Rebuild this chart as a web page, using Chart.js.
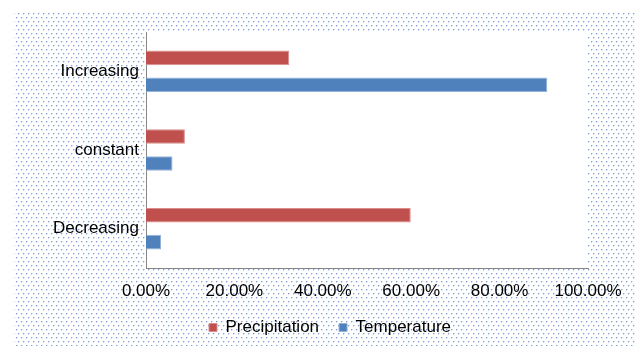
<!DOCTYPE html>
<html>
<head>
<meta charset="utf-8">
<script src="https://cdn.jsdelivr.net/npm/chart.js@4"></script>
<style>
  html, body { margin: 0; padding: 0; background: #fff; }
  #wrap { width: 635px; height: 346px; position: relative; }
</style>
</head>
<body>
<div id="wrap"><canvas id="chart"></canvas></div>
<script>
// values (percent)
var categories = ["Increasing", "constant", "Decreasing"];
var precipitation = [32.4, 8.8, 59.9];
var temperature = [90.8, 6.0, 3.4];
var seriesNames = ["Precipitation", "Temperature"];
var xTicks = [0, 20, 40, 60, 80, 100];

function makeDots(ctx) {
    var c = document.createElement("canvas");
    c.width = 5; c.height = 8;
    var g = c.getContext("2d");
    g.fillStyle = "#fff";
    g.fillRect(0, 0, 5, 8);
    g.fillStyle = "#809fd4";
    g.fillRect(1, 1, 1, 1);
    g.fillRect(3, 5, 1, 1);
    g.fillStyle = "#cfdbf0";
    g.fillRect(2, 1, 1, 1);
    g.fillRect(1, 2, 1, 1);
    g.fillRect(4, 5, 1, 1);
    g.fillRect(3, 6, 1, 1);
    return ctx.createPattern(c, "repeat");
}

// dotted frame behind everything, white plot area on top of it
var background = {
    id: "background",
    afterLayout: function(chart) {
        // legend sits a bit right of the plot centre in the original
        chart.legend.left += 29;
        chart.legend.right += 29;
    },
    beforeDraw: function(chart) {
        var ctx = chart.ctx, a = chart.chartArea;
        ctx.save();
        ctx.fillStyle = makeDots(ctx);
        ctx.fillRect(14, 13, chart.width - 14, chart.height - 13);
        ctx.fillStyle = "#fff";
        ctx.fillRect(a.left, a.top, a.right - a.left, a.bottom - a.top);
        ctx.restore();
    }
};

Chart.defaults.font.family = "'Liberation Sans', Arial, sans-serif";
Chart.defaults.font.size = 17;
Chart.defaults.color = "#000";

new Chart("chart", {
    type: "bar",
    data: {
        labels: categories,
        datasets: [
            {
                label: seriesNames[0],
                data: precipitation,
                backgroundColor: "#C0504D",
                borderColor: "#D98E8C",
                borderWidth: 1,
                categoryPercentage: 0.684,
                barPercentage: 0.54
            },
            {
                label: seriesNames[1],
                data: temperature,
                backgroundColor: "#4F81BD",
                borderColor: "#95B3D7",
                borderWidth: 1,
                categoryPercentage: 0.684,
                barPercentage: 0.54
            }
        ]
    },
    options: {
        indexAxis: "y",
        responsive: true,
        maintainAspectRatio: false,
        animation: false,
        layout: { padding: { left: 14, top: 32, right: 47, bottom: 0 } },
        plugins: {
            legend: {
                position: "bottom",
                labels: { boxWidth: 8, boxHeight: 8, padding: 20 }
            },
            tooltip: { enabled: false }
        },
        scales: {
            x: {
                min: 0,
                max: 100,
                afterBuildTicks: function(scale) {
                    scale.ticks = xTicks.map(function(v) { return { value: v }; });
                },
                ticks: {
                    padding: 13,
                    maxRotation: 0,
                    callback: function(v) { return v.toFixed(2) + "%"; }
                },
                grid: { display: false, drawTicks: false },
                border: { display: true, color: "#868686", width: 1 },
                afterFit: function(scale) { scale.height = 31; }
            },
            y: {
                ticks: { padding: 7 },
                grid: { display: false, drawTicks: false },
                border: { display: true, color: "#868686", width: 1 },
                afterFit: function(scale) { scale.width = 132; }
            }
        }
    },
    plugins: [background]
});
</script>
</body>
</html>
